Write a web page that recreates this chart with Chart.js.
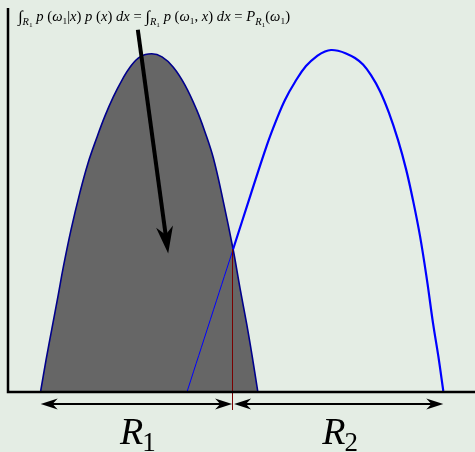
<!DOCTYPE html>
<html>
<head>
<meta charset="utf-8">
<script src="https://cdn.jsdelivr.net/npm/chart.js@4.4.1/dist/chart.umd.min.js"></script>
<style>
  html, body { margin: 0; padding: 0; background: #e4ede4; }
  #wrap { width: 475px; height: 452px; position: relative; }
</style>
</head>
<body>
<div id="wrap"><canvas id="chart"></canvas></div>
<script>
// p(x, w1) and p(x, w2), sampled along x
const classOneX = [0.700, 0.814, 0.942, 1.071, 1.184, 1.349, 1.542, 1.713, 1.899, 2.077, 2.255, 2.441, 2.612,
  2.827, 3.077, 3.298, 3.540, 3.790, 4.040, 4.218, 4.396, 4.604, 4.820, 4.968, 5.111, 5.225, 5.347];
const classOneY = [0, 0.081, 0.165, 0.249, 0.325, 0.423, 0.522, 0.598, 0.664, 0.722, 0.772, 0.816, 0.850,
  0.877, 0.885, 0.877, 0.850, 0.803, 0.738, 0.680, 0.612, 0.501, 0.372, 0.270, 0.176, 0.094, 0];
const classTwoX = [3.839, 4.332, 4.820, 5.193, 5.546, 5.739, 5.931, 6.146, 6.381, 6.638, 6.788, 6.916, 7.066,
  7.238, 7.430, 7.602, 7.773, 7.966, 8.158, 8.351, 8.522, 8.672, 8.822, 8.972, 9.101, 9.214, 9.321];
const classTwoY = [0, 0.187, 0.372, 0.514, 0.646, 0.709, 0.764, 0.811, 0.853, 0.881, 0.891, 0.895, 0.893,
  0.886, 0.874, 0.857, 0.829, 0.787, 0.730, 0.659, 0.583, 0.501, 0.407, 0.291, 0.178, 0.092, 0];

// decision boundary between R1 and R2
const boundary = 4.82;
const regionLabels = [['R', '1'], ['R', '2']];
const regionStart = [classOneX[0], boundary];
const regionEnd = [boundary, classTwoX[classTwoX.length - 1]];

// pointer from the formula down into the shaded area
const pointerFrom = { x: 2.78, y: 0.948 };
const pointerTo = { x: 3.43, y: 0.361 };

const serif = '"Liberation Serif", "DejaVu Serif", serif';

const formulaRuns = [
  ['\u222B', 'int'], ['R', 'si'], ['1', 'ssr'],
  [' p', 'i'], [' (', 'r'], ['\u03C9', 'i'], ['1', 'sr'], ['|', 'r'], ['x', 'i'], [')', 'r'],
  [' p', 'i'], [' (', 'r'], ['x', 'i'], [')', 'r'], [' dx', 'i'], [' = ', 'r'],
  ['\u222B', 'int'], ['R', 'si'], ['1', 'ssr'],
  [' p', 'i'], [' (', 'r'], ['\u03C9', 'i'], ['1', 'sr'], [', ', 'r'], ['x', 'i'], [')', 'r'],
  [' dx', 'i'], [' = ', 'r'],
  ['P', 'i'], ['R', 'si'], ['1', 'ssr'], ['(', 'r'], ['\u03C9', 'i'], ['1', 'sr'], [')', 'r']
];
const runStyles = {
  i: ['italic 14px', 0],
  r: ['14px', 0],
  int: ['italic 16px', 1],
  si: ['italic 10px', 4],
  sr: ['9px', 3],
  ssr: ['7px', 6]
};

function toPoints(xs, ys) {
  return xs.map((x, i) => ({ x: x, y: ys[i] }));
}

function stealthHead(ctx, x, y, angle, len, half) {
  ctx.save();
  ctx.translate(x, y);
  ctx.rotate(angle);
  ctx.beginPath();
  ctx.moveTo(0, 0);
  ctx.lineTo(-len, -half);
  ctx.lineTo(-len * 0.7, 0);
  ctx.lineTo(-len, half);
  ctx.closePath();
  ctx.fill();
  ctx.restore();
}

function doubleArrow(ctx, x1, x2, y) {
  ctx.beginPath();
  ctx.moveTo(x1 + 6, y);
  ctx.lineTo(x2 - 6, y);
  ctx.stroke();
  stealthHead(ctx, x1, y, Math.PI, 17, 5.5);
  stealthHead(ctx, x2, y, 0, 17, 5.5);
}

// keep the shading left of the boundary
const shadeClip = {
  id: 'shadeClip',
  beforeDatasetDraw(chart, args) {
    if (args.index !== 0) return;
    const area = chart.chartArea;
    const bx = chart.scales.x.getPixelForValue(boundary);
    chart.ctx.save();
    chart.ctx.beginPath();
    chart.ctx.rect(area.left, area.top, bx - area.left, area.bottom - area.top);
    chart.ctx.clip();
  },
  afterDatasetDraw(chart, args) {
    if (args.index === 0) chart.ctx.restore();
  }
};

const annotations = {
  id: 'annotations',
  afterDatasetsDraw(chart) {
    const ctx = chart.ctx;
    const area = chart.chartArea;
    const xs = chart.scales.x, ys = chart.scales.y;
    ctx.save();

    // boundary marker
    const bx = Math.round(xs.getPixelForValue(boundary)) - 0.5;
    ctx.strokeStyle = '#7a0000';
    ctx.lineWidth = 1;
    ctx.beginPath();
    ctx.moveTo(bx, ys.getPixelForValue(classOneY[classOneX.indexOf(boundary)]));
    ctx.lineTo(bx, area.bottom + 19);
    ctx.stroke();

    // axes
    ctx.strokeStyle = '#000';
    ctx.lineWidth = 2.5;
    ctx.beginPath();
    ctx.moveTo(area.left, area.top - 2);
    ctx.lineTo(area.left, area.bottom + 1);
    ctx.lineTo(area.right, area.bottom + 1);
    ctx.stroke();

    // region arrows and labels
    ctx.fillStyle = '#000';
    ctx.lineWidth = 2;
    const ay = area.bottom + 13;
    for (let i = 0; i < regionStart.length; i++) {
      const x1 = xs.getPixelForValue(regionStart[i]) + (i === 1 ? 1 : 0);
      const x2 = xs.getPixelForValue(regionEnd[i]) - (i === 0 ? 1 : 0);
      doubleArrow(ctx, x1, x2, ay);

      const cx = (x1 + x2) / 2 + 2;
      ctx.font = 'italic 38px ' + serif;
      const w1 = ctx.measureText(regionLabels[i][0]).width;
      ctx.font = '27px ' + serif;
      const w2 = ctx.measureText(regionLabels[i][1]).width;
      const left = cx - (w1 + w2) / 2;
      ctx.textBaseline = 'alphabetic';
      ctx.textAlign = 'left';
      ctx.font = 'italic 38px ' + serif;
      ctx.fillText(regionLabels[i][0], left, area.bottom + 53);
      ctx.font = '27px ' + serif;
      ctx.fillText(regionLabels[i][1], left + w1 - 1, area.bottom + 60);
    }

    // pointer arrow
    const px1 = xs.getPixelForValue(pointerFrom.x), py1 = ys.getPixelForValue(pointerFrom.y);
    const px2 = xs.getPixelForValue(pointerTo.x), py2 = ys.getPixelForValue(pointerTo.y);
    const ang = Math.atan2(py2 - py1, px2 - px1);
    ctx.lineWidth = 4;
    ctx.beginPath();
    ctx.moveTo(px1, py1);
    ctx.lineTo(px2 - Math.cos(ang) * 15, py2 - Math.sin(ang) * 15);
    ctx.stroke();
    stealthHead(ctx, px2, py2, ang, 27, 8.5);

    // formula
    let total = 0;
    for (const [t, s] of formulaRuns) {
      ctx.font = runStyles[s][0] + ' ' + serif;
      total += ctx.measureText(t).width;
    }
    const k = 272 / total;
    ctx.translate(18, 0);
    ctx.scale(k, 1);
    let x = 0;
    for (const [t, s] of formulaRuns) {
      ctx.font = runStyles[s][0] + ' ' + serif;
      ctx.fillText(t, x, 21 + runStyles[s][1]);
      x += ctx.measureText(t).width;
    }
    ctx.restore();
  }
};

new Chart(document.getElementById('chart'), {
  type: 'line',
  data: {
    datasets: [
      {
        data: toPoints(classOneX, classOneY),
        borderWidth: 0,
        backgroundColor: '#666666',
        fill: 'origin',
        order: 3
      },
      {
        data: toPoints(classOneX, classOneY),
        borderColor: '#00008b',
        borderWidth: 1.6,
        fill: false,
        order: 2
      },
      {
        data: toPoints(classTwoX, classTwoY),
        borderColor: '#0000ff',
        borderWidth: 2.2,
        fill: false,
        order: 1,
        segment: {
          borderWidth: ctx => ctx.p0DataIndex < 2 ? 1 : 2.2
        }
      }
    ]
  },
  options: {
    responsive: true,
    maintainAspectRatio: false,
    animation: false,
    layout: { padding: { left: 8, top: 10, right: 0, bottom: 61 } },
    elements: {
      point: { radius: 0, hoverRadius: 0 },
      line: { tension: 0.4 }
    },
    scales: {
      x: { type: 'linear', min: 0, max: 10, display: false },
      y: { type: 'linear', min: 0, max: 1, display: false }
    },
    plugins: {
      legend: { display: false },
      tooltip: { enabled: false }
    }
  },
  plugins: [shadeClip, annotations]
});
</script>
</body>
</html>
